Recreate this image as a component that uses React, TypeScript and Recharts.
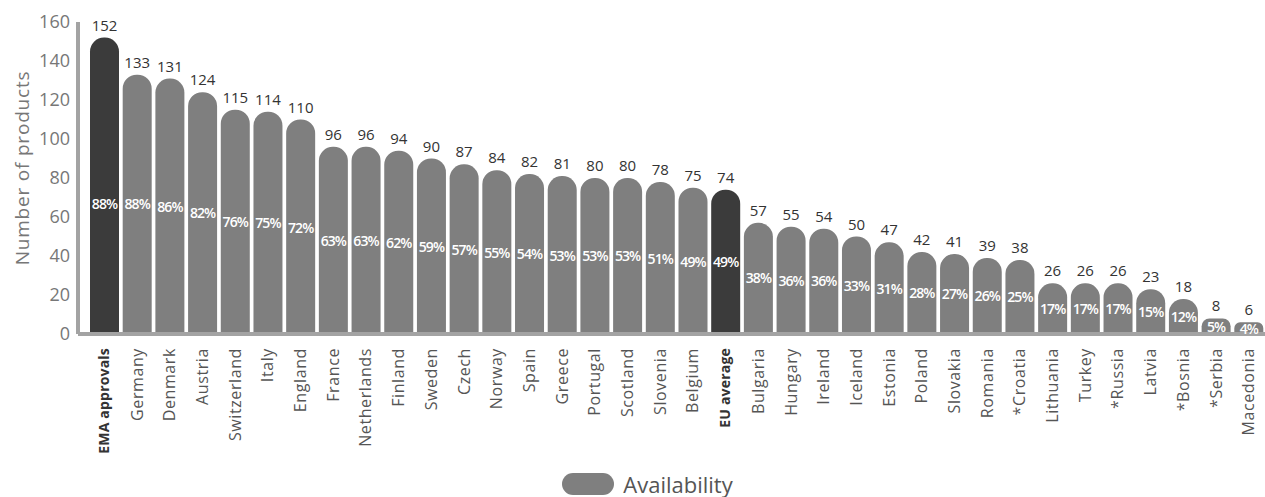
import { Bar, BarChart, Cell, LabelList, Legend, XAxis, YAxis } from "recharts";

const countries = [
  "EMA approvals", "Germany", "Denmark", "Austria", "Switzerland", "Italy", "England",
  "France", "Netherlands", "Finland", "Sweden", "Czech", "Norway", "Spain", "Greece",
  "Portugal", "Scotland", "Slovenia", "Belgium", "EU average", "Bulgaria", "Hungary",
  "Ireland", "Iceland", "Estonia", "Poland", "Slovakia", "Romania", "*Croatia",
  "Lithuania", "Turkey", "*Russia", "Latvia", "*Bosnia", "*Serbia", "Macedonia",
];
const products = [
  152, 133, 131, 124, 115, 114, 110, 96, 96, 94, 90, 87, 84, 82, 81, 80, 80, 78, 75, 74,
  57, 55, 54, 50, 47, 42, 41, 39, 38, 26, 26, 26, 23, 18, 8, 6,
];
const availability = [
  88, 88, 86, 82, 76, 75, 72, 63, 63, 62, 59, 57, 55, 54, 53, 53, 53, 51, 49, 49,
  38, 36, 36, 33, 31, 28, 27, 26, 25, 17, 17, 17, 15, 12, 5, 4,
];
const highlighted = ["EMA approvals", "EU average"];
const yTicks = [0, 20, 40, 60, 80, 100, 120, 140, 160];

const data = countries.map((name, i) => ({
  name,
  products: products[i],
  pct: availability[i],
}));

const FONT = "'Open Sans', sans-serif";
const GRAY = "#7f7f7f";
const DARK = "#3b3b3b";
const EMA_TOTAL = products[0];

const CountryTick = ({ x, y, payload }: any) => {
  const bold = highlighted.includes(payload.value);
  return (
    <text
      x={x}
      y={y + 6}
      dy="0.35em"
      transform={`rotate(-90, ${x}, ${y + 6})`}
      textAnchor="end"
      fontSize={bold ? 14 : 16}
      letterSpacing={bold ? 0.2 : 0.6}
      fontFamily={FONT}
      fontWeight={bold ? 700 : 400}
      fill={bold ? "#333" : "#555"}
    >
      {payload.value}
    </text>
  );
};

// percentage sits halfway up the share of the EMA total it represents
const PctLabel = ({ x, y, width, height, index }: any) => {
  const d = data[index];
  const share = ((d.pct / 100) * EMA_TOTAL) / d.products;
  const bottom = y + height;
  const cy = bottom - (height * share) / 2;
  return (
    <text
      x={x + width / 2}
      y={cy}
      textAnchor="middle"
      dominantBaseline="central"
      fontSize={14}
      fontWeight={600}
      letterSpacing={-0.9}
      fontFamily={FONT}
      fill="#fff"
    >
      {`${d.pct}%`}
    </text>
  );
};

const AxisTitle = ({ viewBox }: any) => {
  const cy = viewBox.y + viewBox.height / 2 - 10;
  return (
    <text
      x={22}
      y={cy}
      transform={`rotate(-90, 22, ${cy})`}
      textAnchor="middle"
      dominantBaseline="central"
      fontSize={19}
      letterSpacing={0.8}
      fontFamily={FONT}
      fill="#777"
    >
      Number of products
    </text>
  );
};

const LegendBox = () => (
  <div
    style={{
      display: "flex",
      justifyContent: "center",
      alignItems: "center",
      height: 48,
      paddingTop: 22,
      paddingLeft: 30,
      boxSizing: "border-box",
    }}
  >
    <span
      style={{
        display: "inline-block",
        width: 52,
        height: 22,
        borderRadius: 11,
        background: GRAY,
        marginRight: 9,
      }}
    />
    <span style={{ fontSize: 22, color: "#555", fontFamily: FONT }}>Availability</span>
  </div>
);

export default function App() {
  return (
    <div style={{ position: "absolute", left: 0, top: 0, background: "#fff" }}>
      <BarChart
        width={1265}
        height={497}
        data={data}
        margin={{ top: 22, right: 0, bottom: 0, left: 0 }}
        barCategoryGap={2}
      >
        <XAxis
          dataKey="name"
          interval={0}
          height={115}
          padding={{ left: 10, right: 0 }}
          tick={<CountryTick />}
          tickLine={false}
          axisLine={{ stroke: "#a3a3a3", strokeWidth: 4 }}
        />
        <YAxis
          width={78}
          domain={[0, 160]}
          ticks={yTicks}
          tickSize={0}
          tickMargin={8}
          tickLine={false}
          axisLine={{ stroke: "#a3a3a3", strokeWidth: 4 }}
          tick={{ fontSize: 18, fill: "#777", fontFamily: FONT }}
          label={<AxisTitle />}
        />
        <Legend
          verticalAlign="bottom"
          height={48}
          wrapperStyle={{ height: 48 }}
          content={<LegendBox />}
        />
        <Bar
          dataKey="products"
          name="Availability"
          radius={[14, 14, 0, 0]}
          isAnimationActive={false}
        >
          {data.map((d) => (
            <Cell key={d.name} fill={highlighted.includes(d.name) ? DARK : GRAY} />
          ))}
          <LabelList
            dataKey="products"
            position="top"
            offset={7}
            fontSize={15}
            fontFamily={FONT}
            fill="#333"
          />
          <LabelList dataKey="pct" content={<PctLabel />} />
        </Bar>
      </BarChart>
    </div>
  );
}
